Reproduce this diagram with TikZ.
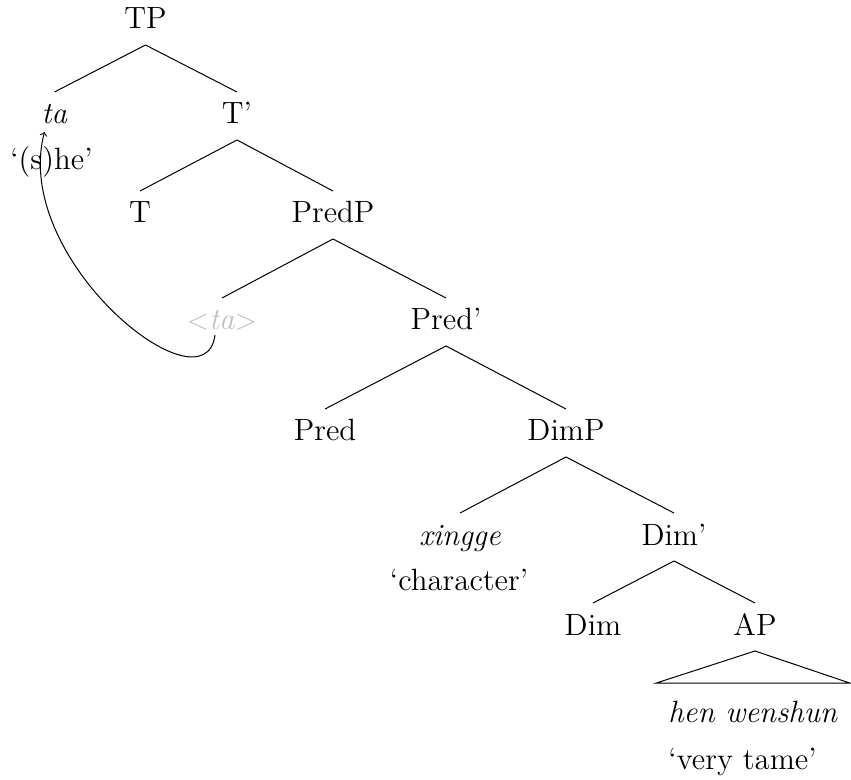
\documentclass[tikz,border=0pt]{standalone}
\usepackage{fontspec}
\setmainfont{lmroman12}[Extension=.otf, UprightFont=*-regular, ItalicFont=*-italic, BoldFont=*-bold]
\begin{document}
\begin{tikzpicture}[x=0.5pt,y=-0.5pt,
  every node/.style={font=\fontsize{15.4}{18}\selectfont},
  lab/.style={anchor=base, inner sep=0pt, text height=10pt, text depth=2pt, outer ysep=6pt, outer xsep=0pt},
  gloss/.style={anchor=base, inner sep=0pt},
  roofed/.style={anchor=base, inner ysep=0pt, inner xsep=6pt, text height=10.5pt, text depth=2pt, outer ysep=9pt, outer xsep=0pt},
  branch/.style={line width=0.5pt},
  ghost/.style={text=gray!50}]
\useasboundingbox (0,0) rectangle (851,780);
% nodes
\node[lab] (TP) at (145.5,29) {TP};
\node[lab] (ta) at (54.5,124) {\textit{ta}};
\node[gloss] (tagl) at (51.5,170) {`(s)he'};
\node[lab] (Tbar) at (237,124) {T'};
\node[lab] (T) at (140,223) {T};
\node[lab] (PredP) at (333,223) {PredP};
\node[lab,ghost] (ta2) at (222,330) {$<$\textit{ta}$>$};
\node[lab] (Predbar) at (446,330) {Pred'};
\node[lab] (Pred) at (325,441) {Pred};
\node[lab] (DimP) at (566,441) {DimP};
\node[lab] (xingge) at (460,545) {\textit{xingge}};
\node[gloss] (chargl) at (459,590) {`character'};
\node[lab] (Dimbar) at (674,545) {Dim'};
\node[lab] (Dim) at (593,635) {Dim};
\node[lab] (AP) at (755,635) {AP};
\node[roofed] (hw) at (753,722) {\textit{hen wenshun}};
\node[gloss,anchor=base west] (tamegl) at (668,769) {`very tame'};
% branches
\draw[branch] (TP.south) -- (ta.north);
\draw[branch] (TP.south) -- (Tbar.north);
\draw[branch] (Tbar.south) -- (T.north);
\draw[branch] (Tbar.south) -- (PredP.north);
\draw[branch] (PredP.south) -- (ta2.north);
\draw[branch] (PredP.south) -- (Predbar.north);
\draw[branch] (Predbar.south) -- (Pred.north);
\draw[branch] (Predbar.south) -- (DimP.north);
\draw[branch] (DimP.south) -- (xingge.north);
\draw[branch] (DimP.south) -- (Dimbar.north);
\draw[branch] (Dimbar.south) -- (Dim.north);
\draw[branch] (Dimbar.south) -- (AP.north);
\draw[branch] (AP.south) -- (hw.north east) -- (hw.north west) -- cycle;
% movement arrow
\draw[branch,->] ([xshift=-3.5pt,yshift=-2.5pt]ta2.base) .. controls +(-10,80) and +(-34,128) .. ([xshift=-5pt,yshift=-4pt]ta.base);
\end{tikzpicture}
\end{document}
